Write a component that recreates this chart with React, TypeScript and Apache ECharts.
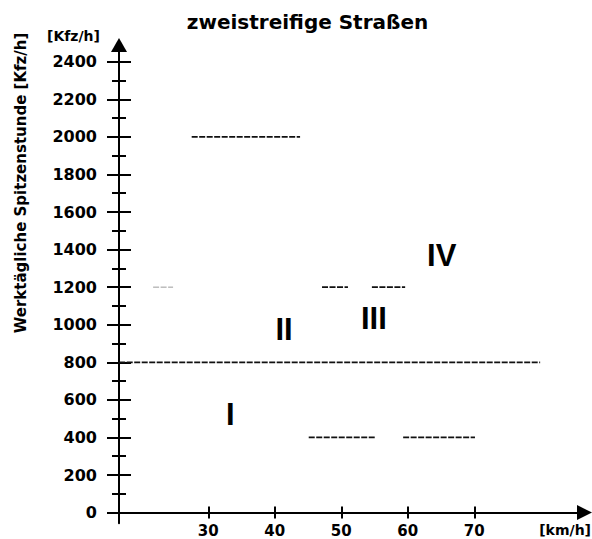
import React, { useEffect, useRef } from "react";
import * as echarts from "echarts";

const yMajorTicks = [0, 200, 400, 600, 800, 1000, 1200, 1400, 1600, 1800, 2000, 2200, 2400];
const yMinorTicks = [100, 300, 500, 700, 900, 1100, 1300, 1500, 1700, 1900, 2100, 2300];
const xTicks = [30, 40, 50, 60, 70];

// dashed boundary segments still visible in the scan: [x0, x1, y]
const darkSegments = [
  [27.5, 43.8, 2000],
  [47.1, 51.0, 1200],
  [54.6, 59.6, 1200],
  [16.6, 79.9, 800],
  [45.1, 55.2, 400],
  [59.3, 70.1, 400],
];
const faintSegments = [
  [21.7, 24.7, 1200],
];

const regionNames = ["I", "II", "III", "IV"];
const regionX = [33.3, 41.4, 54.9, 65.1];
const regionY = [522, 972, 1033, 1366];

const X_MIN = 16.57;
const X_MAX = 86.57;
const Y_MIN = -57;
const Y_MAX = 2489;
const GRID_TOP = 45;
const GRID_BOTTOM = 15.7;
const CHART_H = 539;
// pixel distance between grid bottom (Y_MIN) and the value 0, where the x axis sits
const X_AXIS_OFFSET = -((CHART_H - GRID_TOP - GRID_BOTTOM) * (0 - Y_MIN)) / (Y_MAX - Y_MIN);

const FONT = "DejaVu Sans";

export default function App() {
  const ref = useRef<HTMLDivElement>(null);
  useEffect(() => {
    if (!ref.current) return;
    const chart = echarts.init(ref.current, null, { renderer: "svg" });

    const baseY = (extra: any) => ({
      type: "value",
      position: "left",
      min: Y_MIN,
      max: Y_MAX,
      splitLine: { show: false },
      axisLine: { show: false, onZero: false },
      axisLabel: { show: false },
      ...extra,
    });
    const baseX = (extra: any) => ({
      type: "value",
      position: "bottom",
      offset: X_AXIS_OFFSET,
      min: X_MIN,
      max: X_MAX,
      splitLine: { show: false },
      axisLine: { show: false, onZero: false },
      axisLabel: { show: false },
      ...extra,
    });

    const segSeries = (segs: number[][], color: string, width: number) =>
      segs.map((s) => ({
        type: "line",
        xAxisIndex: 0,
        yAxisIndex: 0,
        symbol: "none",
        silent: true,
        data: [
          [s[0], s[2]],
          [s[1], s[2]],
        ],
        lineStyle: { color, width, type: [6, 1.5] },
      }));

    chart.setOption({
      animation: false,
      backgroundColor: "#ffffff",
      grid: {
        left: 119,
        right: 7.5,
        top: GRID_TOP,
        bottom: GRID_BOTTOM,
        containLabel: false,
        outerBoundsMode: "none",
      },
      xAxis: [
        baseX({
          axisLine: {
            show: true,
            onZero: false,
            symbol: ["none", "triangle"],
            symbolSize: [15, 15],
            lineStyle: { color: "#000", width: 2 },
          },
          axisTick: {
            show: true,
            customValues: xTicks,
            length: 6,
            inside: false,
            lineStyle: { color: "#000", width: 2 },
          },
          axisLabel: {
            show: true,
            customValues: xTicks,
            margin: 11,
            color: "#000",
            fontFamily: FONT,
            fontWeight: "bold",
            fontSize: 15,
            lineHeight: 14,
            formatter: (v: number) => String(v),
          },
        }),
        baseX({
          axisTick: {
            show: true,
            customValues: xTicks,
            length: 6,
            inside: true,
            lineStyle: { color: "#000", width: 2 },
          },
        }),
      ],
      yAxis: [
        baseY({
          axisLine: {
            show: true,
            onZero: false,
            symbol: ["none", "triangle"],
            symbolSize: [16, 14],
            lineStyle: { color: "#000", width: 2 },
          },
          axisTick: {
            show: true,
            customValues: yMajorTicks,
            length: 12,
            inside: false,
            lineStyle: { color: "#000", width: 2 },
          },
          axisLabel: {
            show: true,
            customValues: yMajorTicks,
            margin: 22,
            color: "#000",
            fontFamily: FONT,
            fontWeight: "bold",
            fontSize: 16,
            formatter: (v: number) => String(v),
          },
        }),
        baseY({
          axisTick: {
            show: true,
            customValues: yMajorTicks,
            length: 12,
            inside: true,
            lineStyle: { color: "#000", width: 2 },
          },
        }),
        baseY({
          axisTick: {
            show: true,
            customValues: yMinorTicks,
            length: 7,
            inside: false,
            lineStyle: { color: "#000", width: 2 },
          },
        }),
        baseY({
          axisTick: {
            show: true,
            customValues: yMinorTicks,
            length: 7,
            inside: true,
            lineStyle: { color: "#000", width: 2 },
          },
        }),
      ],
      series: [
        ...segSeries(darkSegments, "#111", 1.8),
        ...segSeries(faintSegments, "#9a9a9a", 1),
        {
          type: "scatter",
          xAxisIndex: 0,
          yAxisIndex: 0,
          symbolSize: 0,
          silent: true,
          itemStyle: { opacity: 1 },
          data: regionNames.map((n, i) => ({ name: n, value: [regionX[i], regionY[i]] })),
          label: {
            show: true,
            position: "inside",
            formatter: "{b}",
            color: "#000",
            opacity: 1,
            textBorderWidth: 0,
            fontFamily: "Liberation Sans",
            fontWeight: "bold",
            fontSize: 31,
          },
        },
      ],
      graphic: [
        {
          type: "text",
          x: 307.5,
          y: 22,
          style: {
            text: "zweistreifige Straßen",
            fill: "#000",
            font: `bold 20px "${FONT}"`,
            textAlign: "center",
            textVerticalAlign: "middle",
          },
        },
        {
          type: "text",
          x: 20.5,
          y: 183,
          rotation: Math.PI / 2,
          style: {
            text: "Werktägliche Spitzenstunde [Kfz/h]",
            fill: "#000",
            font: `bold 15px "${FONT}"`,
            textAlign: "center",
            textVerticalAlign: "middle",
          },
        },
        {
          type: "text",
          x: 73.5,
          y: 36,
          style: {
            text: "[Kfz/h]",
            fill: "#000",
            font: `bold 14px "${FONT}"`,
            textAlign: "center",
            textVerticalAlign: "middle",
          },
        },
        {
          type: "text",
          x: 591,
          y: 530,
          style: {
            text: "[km/h]",
            fill: "#000",
            font: `bold 14px "${FONT}"`,
            lineHeight: 14,
            textAlign: "right",
            textVerticalAlign: "middle",
          },
        },
      ],
    });
    return () => chart.dispose();
  }, []);
  return (
    <div
      ref={ref}
      style={{ position: "fixed", left: 0, top: 0, width: 592, height: 539, background: "#fff" }}
    />
  );
}
